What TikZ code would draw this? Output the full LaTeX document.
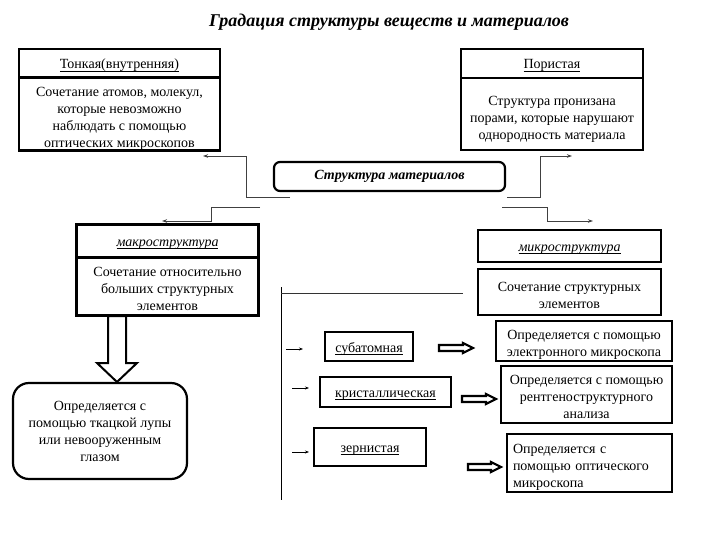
\documentclass[tikz,border=0pt]{standalone}
\usepackage{fontspec}
\setmainfont{Liberation Serif}
\usetikzlibrary{arrows.meta}
\newcommand\bodyfs{\fontsize{14}{17}\selectfont}
\newsavebox\ulbox
\newcommand\myul[1]{\sbox\ulbox{#1}\rlap{\vrule height -1.6pt depth 2.3pt width \wd\ulbox}\usebox\ulbox}
\newcommand\tstrut[1]{\rule{0pt}{#1}}
\begin{document}
\begin{tikzpicture}[x=1pt,y=-1pt,
  thick box/.style={draw, line width=2.6pt, inner sep=0pt, align=center, font=\bodyfs},
  mid box/.style={draw, line width=2.2pt, inner sep=0pt, align=center, font=\bodyfs},
  head/.style={text height=11pt, text depth=0pt},
  conn/.style={draw=black!75, line width=0.9pt, -{Stealth[length=5pt,width=3.5pt]}},
  small arrow/.style={draw, line width=0.8pt, -{Stealth[length=4pt,width=3pt]}},
  block arrow/.style={draw, line width=2pt, fill=white, line join=miter},
]
\useasboundingbox (0,0) rectangle (720,540);

\node[font=\fontsize{18}{22}\selectfont\bfseries\itshape] (title) at (389,22) {Градация структуры веществ и материалов};

% Тонкая
\node[thick box, head, minimum width=201pt, minimum height=29pt] (th) at (119.5,63.5) {\myul{Тонкая(внутренняя)}};
\node[thick box, minimum width=201pt, minimum height=72pt] (tb) at (119.5,114) {\tstrut{19pt}Сочетание атомов, молекул,\\которые невозможно\\наблюдать с помощью\\оптических микроскопов};

% Пористая
\node[thick box, head, minimum width=182pt, minimum height=29pt] (ph) at (552,63.5) {\myul{Пористая}};
\node[thick box, minimum width=182pt, minimum height=72pt] (pb) at (552,114) {\tstrut{19pt}Структура пронизана\\порами, которые нарушают\\однородность материала};

% central
\node[mid box, rounded corners=6pt, minimum width=231pt, minimum height=29pt, font=\fontsize{14}{17}\selectfont\bfseries\itshape] (center) at (389.5,176.5) {Структура материалов};

% macro
\node[thick box, head, minimum width=182pt, minimum height=33pt] (mah) at (167.5,241) {\itshape\myul{макроструктура}};
\node[thick box, minimum width=182pt, minimum height=58pt] (mab) at (167.5,286.5) {\tstrut{15pt}Сочетание относительно\\больших структурных\\элементов};

% micro
\node[mid box, head, minimum width=183pt, minimum height=32pt] (mih) at (569.5,246) {\itshape\myul{микроструктура}};
\node[mid box, minimum width=183pt, minimum height=46pt] (mib) at (569.5,292) {\tstrut{16pt}Сочетание структурных\\элементов};

% macro result
\node[mid box, rounded corners=16pt, minimum width=174pt, minimum height=96pt] (eye) at (100,431) {Определяется с\\помощью ткацкой лупы\\или невооруженным\\глазом};
\draw[block arrow] (108,316) -- (126,316) -- (126,363) -- (137,363) -- (117,382) -- (97,363) -- (108,363) -- cycle;

% connectors top
\coordinate (c1) at (290,197); \coordinate (e1) at (203,156);
\coordinate (c2) at (507,197); \coordinate (e2) at (572,156);
\coordinate (c3) at (260,207); \coordinate (e3) at (162,221);
\coordinate (c4) at (502,207); \coordinate (e4) at (593,221);
\draw[conn] (c1) -| (246,156) -- (e1);
\draw[conn] (c2) -| (540,156) -- (e2);
\draw[conn] (c3) -| (211,221) -- (e3);
\draw[conn] (c4) -| (547,221) -- (e4);

% bracket lines
\coordinate (v1) at (281,287); \coordinate (v2) at (281,500);
\coordinate (h1) at (281,293); \coordinate (h2) at (463,293);
\draw[line width=0.9pt] (v1) -- (v2);
\draw[line width=0.9pt, draw=black!80] (h1) -- (h2);

% micro kinds
\node[mid box, head, minimum width=88pt, minimum height=29pt] (sub) at (369,346.5) {\myul{субатомная}};
\node[mid box, head, minimum width=131pt, minimum height=30pt] (kri) at (385.5,392) {\myul{кристаллическая}};
\node[mid box, head, minimum width=112pt, minimum height=38pt] (zer) at (370,447) {\myul{зернистая}};

\coordinate (a1s) at (286,349); \coordinate (a1e) at (303,349);
\coordinate (a2s) at (292,388); \coordinate (a2e) at (309,388);
\coordinate (a3s) at (292,452); \coordinate (a3e) at (309,452);
\draw[small arrow] (a1s) -- (a1e);
\draw[small arrow] (a2s) -- (a2e);
\draw[small arrow] (a3s) -- (a3e);

% results
\node[mid box, minimum width=176pt, minimum height=40pt] (r1) at (584,341) {\tstrut{17pt}Определяется с помощью\\электронного микроскопа};
\node[mid box, minimum width=171pt, minimum height=57pt] (r2) at (586.5,394.5) {\tstrut{15pt}Определяется с помощью\\рентгеноструктурного\\анализа};
\node[mid box, minimum width=165pt, minimum height=58pt, align=left, text width=153pt] (r3) at (589.5,463) {\tstrut{17pt}Определяется с\\помощью оптического\\микроскопа};

% double arrows
\draw[block arrow, line width=2.2pt] (439,345) -- (463,345) -- (463,343) -- (473,348) -- (463,353) -- (463,351) -- (439,351) -- cycle;
\draw[block arrow, line width=2.2pt] (462,396) -- (486,396) -- (486,394) -- (496,399) -- (486,404) -- (486,402) -- (462,402) -- cycle;
\draw[block arrow, line width=2.2pt] (468,464) -- (491,464) -- (491,462) -- (501,467) -- (491,472) -- (491,470) -- (468,470) -- cycle;
\end{tikzpicture}
\end{document}
